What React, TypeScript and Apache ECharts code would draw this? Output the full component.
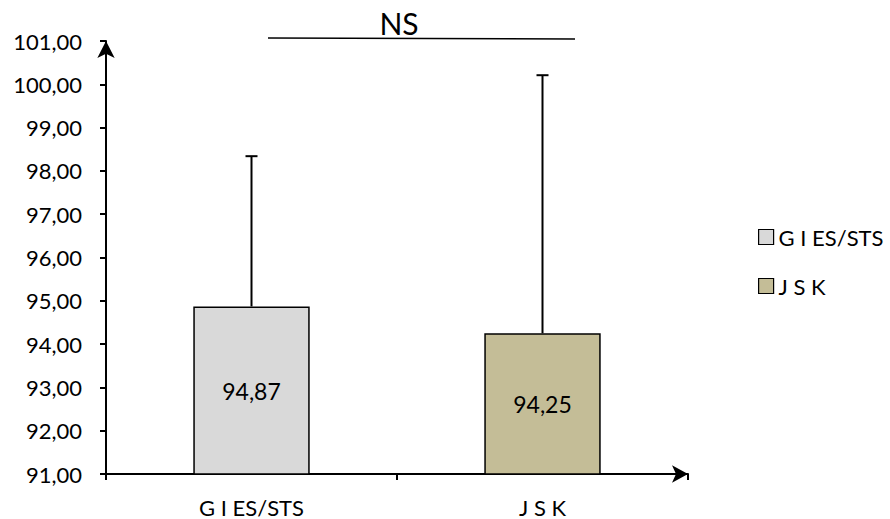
import React, { useEffect, useRef } from "react";
import * as echarts from "echarts";

const categories = ["G I ES/STS", "J S K"];
const seriesNames = ["G I ES/STS", "J S K"];
const means = [94.87, 94.25];
const upperErr = [98.34, 100.21];
const colors = ["#D9D9D9", "#C4BD97"];
const yMin = 91;
const yMax = 101;
const yInterval = 1;
const annotation = "NS";

const fmt = (v: number) => v.toFixed(2).replace(".", ",");

export default function App() {
  const ref = useRef<HTMLDivElement>(null);
  useEffect(() => {
    if (!ref.current) return;
    const chart = echarts.init(ref.current, null, { renderer: "svg" });
    const font = "Lato, 'Open Sans', sans-serif";
    const barSeries = seriesNames.map((name, i) => ({
      name,
      type: "bar",
      barWidth: "40%",
      barGap: "-100%",
      data: categories.map((_, j) => (j === i ? means[j] : "-")),
      itemStyle: { color: colors[i], borderColor: "#000", borderWidth: 1.5 },
      label: {
        show: true,
        position: "inside",
        formatter: (p: any) => fmt(p.value),
        color: "#000",
        fontSize: 23,
        fontFamily: font,
      },
      z: 2,
    }));
    const errData = categories.map((_, j) => [j, means[j], upperErr[j]]);
    chart.setOption({
      animation: false,
      grid: { left: 106, right: 202, top: 41, bottom: 45, containLabel: false },
      legend: {
        orient: "vertical",
        left: 758,
        top: 226,
        padding: 0,
        itemGap: 27,
        itemWidth: 15,
        itemHeight: 15,
        icon: "rect",
        data: seriesNames,
        textStyle: { fontSize: 22, fontFamily: font, color: "#000" },
        itemStyle: { borderColor: "#000", borderWidth: 1.2 },
      },
      xAxis: {
        type: "category",
        data: categories,
        boundaryGap: true,
        axisLine: {
          show: true,
          lineStyle: { color: "#000", width: 2 },
          symbol: ["none", "arrow"],
          symbolSize: [13, 16],
        },
        axisTick: { show: true, alignWithLabel: false, length: 6, lineStyle: { color: "#000", width: 2 } },
        axisLabel: { color: "#000", fontSize: 22, fontFamily: font, margin: 22 },
        splitLine: { show: false },
      },
      yAxis: {
        type: "value",
        min: yMin,
        max: yMax,
        interval: yInterval,
        axisLine: {
          show: true,
          lineStyle: { color: "#000", width: 2 },
          symbol: ["none", "arrow"],
          symbolSize: [13, 17],
        },
        axisTick: { show: true, length: 6, lineStyle: { color: "#000", width: 2 } },
        axisLabel: {
          color: "#000",
          fontSize: 22,
          fontFamily: font,
          margin: 24,
          formatter: (v: number) => fmt(v),
        },
        splitLine: { show: false },
      },
      graphic: [
        { type: "line", shape: { x1: 268, y1: 38, x2: 575, y2: 39 }, style: { stroke: "#000", lineWidth: 1.5 } },
        {
          type: "text",
          x: 399,
          y: 38,
          style: { text: annotation, fontSize: 30, fontFamily: font, fill: "#000", align: "center", verticalAlign: "bottom" },
        },
      ],
      series: [
        ...barSeries,
        {
          type: "custom",
          name: "err",
          data: errData,
          z: 3,
          renderItem: (params: any, api: any) => {
            const x = api.value(0);
            const lo = api.coord([x, api.value(1)]);
            const hi = api.coord([x, api.value(2)]);
            const cap = 6;
            return {
              type: "group",
              children: [
                { type: "line", shape: { x1: lo[0], y1: lo[1], x2: hi[0], y2: hi[1] }, style: { stroke: "#000", lineWidth: 2 } },
                { type: "line", shape: { x1: hi[0] - cap, y1: hi[1], x2: hi[0] + cap, y2: hi[1] }, style: { stroke: "#000", lineWidth: 2 } },
              ],
            };
          },
        },
      ],
    });
    return () => chart.dispose();
  }, []);
  return <div ref={ref} style={{ width: 890, height: 519, position: "absolute", left: 0, top: 0 }} />;
}
